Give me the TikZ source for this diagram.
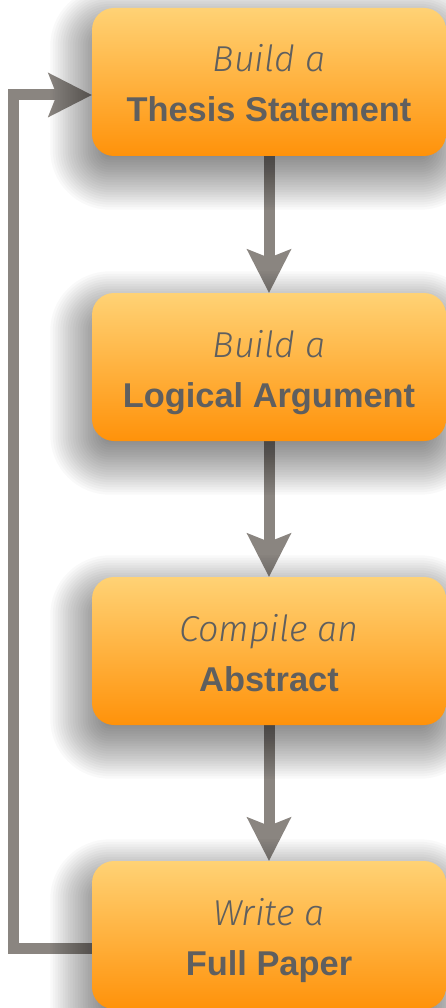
\documentclass[tikz,border=0pt]{standalone}
\usepackage{fontspec}
\setmainfont{Liberation Sans}
\newfontfamily\handfam{Fira Sans Light Italic}
\usetikzlibrary{arrows.meta}
\pgfdeclarelayer{bg}
\pgfdeclarelayer{arrowlayer}
\pgfdeclarelayer{shadowlayer}
\pgfsetlayers{bg,arrowlayer,shadowlayer,main}
\definecolor{boxtop}{RGB}{255,210,117}
\definecolor{boxbot}{RGB}{255,146,10}
\definecolor{arrowgray}{RGB}{138,133,128}
\definecolor{txtgray}{RGB}{95,95,95}
\newcommand\handfont{\handfam\fontsize{36}{40}\selectfont}
\newcommand\headfont{\fontsize{34.4}{40}\selectfont\bfseries}
\begin{document}
\begin{tikzpicture}[x=1pt,y=1pt,
  stagebox/.style={rounded corners=22pt, top color=boxtop, bottom color=boxbot, draw=none,
    minimum width=354pt, minimum height=148pt, inner sep=0pt},
  shadowstep/.style={fill=black, fill opacity=0.024, draw=none},
  handtxt/.style={anchor=base, text=txtgray, font=\handfont, inner sep=0pt},
  headtxt/.style={anchor=base, text=txtgray, font=\headfont, inner sep=0pt},
  flow/.style={draw=arrowgray, line width=11pt, line join=miter,
    -{Stealth[length=44pt,width=45pt,inset=9pt,line width=0pt]}}
]
\useasboundingbox (0,0) rectangle (446,-1008);

\node[stagebox] (b1) at (269,-82) {};
\node[stagebox] (b2) at (269,-367) {};
\node[stagebox] (b3) at (269,-651) {};
\node[stagebox] (b4) at (269,-935) {};

\node[handtxt] (h1) at ([yshift=10pt]b1.center) {Build a};
\node[headtxt] (t1) at ([yshift=-40pt]b1.center) {Thesis Statement};
\node[handtxt] (h2) at ([yshift=10pt]b2.center) {Build a};
\node[headtxt] (t2) at ([yshift=-40pt]b2.center) {Logical Argument};
\node[handtxt] (h3) at ([yshift=10pt]b3.center) {Compile an};
\node[headtxt] (t3) at ([yshift=-40pt]b3.center) {Abstract};
\node[handtxt] (h4) at ([yshift=10pt]b4.center) {Write a};
\node[headtxt] (t4) at ([yshift=-40pt]b4.center) {Full Paper};

\begin{pgfonlayer}{shadowlayer}
\foreach \b in {b1,b2,b3,b4}{
  \foreach \i in {1,...,22}{
    \pgfmathsetmacro\e{40-2.5*\i}
    \pgfmathsetmacro\rc{max(22+\e,1)}
    \fill[shadowstep, rounded corners=\rc pt]
      ([shift={(-4-\e,-16-\e)}]\b.south west) rectangle ([shift={(-4+\e,-16+\e)}]\b.north east);
  }
}
\end{pgfonlayer}

\begin{pgfonlayer}{arrowlayer}
\draw[flow] (b1.south) -- (b2.north);
\draw[flow] (b2.south) -- (b3.north);
\draw[flow] (b3.south) -- (b4.north);
\draw[flow] ([yshift=-13pt]b4.west) -- ++(-78,0) |- ([yshift=-13pt]b1.west);
\end{pgfonlayer}

\begin{pgfonlayer}{bg}
\fill[white] (0,0) rectangle (446,-1008);
\end{pgfonlayer}
\end{tikzpicture}
\end{document}
